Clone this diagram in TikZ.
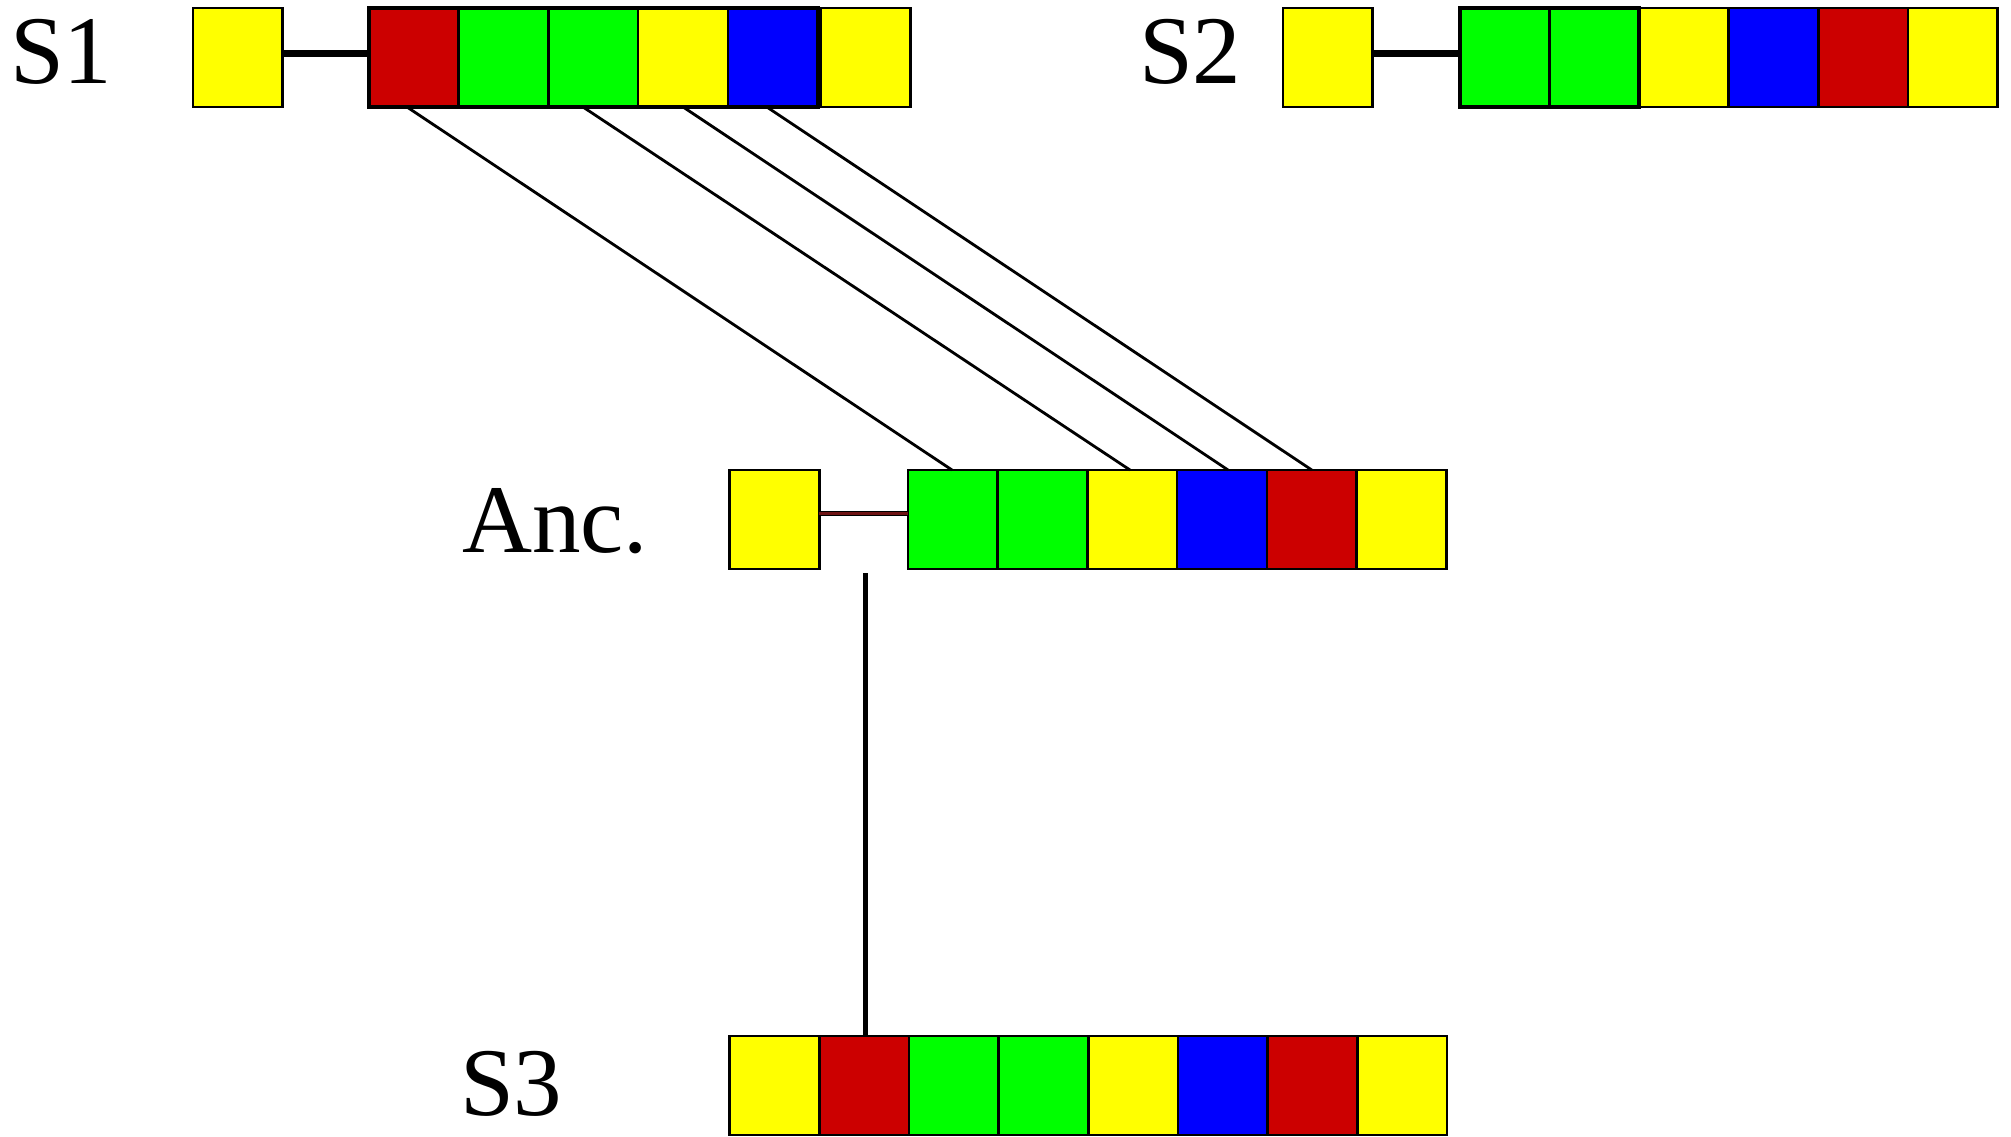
\documentclass[tikz,border=0pt]{standalone}
\usepackage{fontspec}
\setmainfont{Liberation Serif}
\definecolor{cy}{RGB}{255,255,0}
\definecolor{cr}{RGB}{204,0,0}
\definecolor{cg}{RGB}{0,255,0}
\definecolor{cb}{RGB}{0,0,255}
\definecolor{ancline}{RGB}{110,20,20}
\tikzset{
  cell/.style={draw=black, line width=2.6pt, minimum width=89.7pt, minimum height=99pt,
    inner sep=0pt, outer sep=0pt, anchor=north west},
  lbl/.style={inner sep=0pt, outer sep=0pt, anchor=base west,
    font=\fontsize{97}{100}\selectfont},
  link/.style={draw=black, line width=2.8pt},
  stem/.style={draw=black, line width=7pt},
  grp/.style={draw=black, line width=4pt}
}
\begin{document}
\begin{tikzpicture}[x=1pt,y=-1pt]
\useasboundingbox (0,0) rectangle (2011,1136);
% ---- S1 ----
\node[lbl] (t1) at (10,83) {S1};
\node[cell, fill=cy] (s1y) at (193,8) {};
\node[cell, fill=cr] (s1a) at (369,8) {};
\node[cell, fill=cg] (s1b) at (458.7,8) {};
\node[cell, fill=cg] (s1c) at (548.4,8) {};
\node[cell, fill=cy] (s1d) at (638.1,8) {};
\node[cell, fill=cb] (s1e) at (727.8,8) {};
\node[cell, fill=cy] (s1f) at (820.5,8) {};
\draw[grp] (s1a.north west) rectangle (s1e.south east);
\draw[stem] ([yshift=4.5pt]s1y.east) -- ([yshift=4.5pt]s1a.west);
% ---- S2 ----
\node[lbl] (t2) at (1139,83) {S2};
\node[cell, fill=cy] (s2y) at (1283,8) {};
\node[cell, fill=cg] (s2a) at (1459.5,8) {};
\node[cell, fill=cg] (s2b) at (1549.2,8) {};
\node[cell, fill=cy] (s2c) at (1638.9,8) {};
\node[cell, fill=cb] (s2d) at (1728.6,8) {};
\node[cell, fill=cr] (s2e) at (1818.3,8) {};
\node[cell, fill=cy] (s2f) at (1908,8) {};
\draw[grp] (s2a.north west) rectangle (s2b.south east);
\draw[stem] ([yshift=4.5pt]s2y.east) -- ([yshift=4.5pt]s2a.west);
% ---- Anc ----
\node[lbl] (t3) at (462,552) {Anc.};
\node[cell, fill=cy] (ay) at (729.5,470) {};
\node[cell, fill=cg] (aa) at (908,470) {};
\node[cell, fill=cg] (ab) at (997.7,470) {};
\node[cell, fill=cy] (ac) at (1087.4,470) {};
\node[cell, fill=cb] (ad) at (1177.1,470) {};
\node[cell, fill=cr] (ae) at (1266.8,470) {};
\node[cell, fill=cy] (af) at (1356.5,470) {};
\draw[draw=black, line width=1.2pt, double=ancline, double distance=3pt]
  ([yshift=6pt]ay.east) -- ([yshift=6pt]aa.west);
% ---- S3 ----
\node[lbl] (t4) at (460,1115) {S3};
\node[cell, fill=cy] (sa) at (729.5,1036) {};
\node[cell, fill=cr] (sb) at (819.2,1036) {};
\node[cell, fill=cg] (sc) at (908.9,1036) {};
\node[cell, fill=cg] (sd) at (998.6,1036) {};
\node[cell, fill=cy] (se) at (1088.3,1036) {};
\node[cell, fill=cb] (sf) at (1178,1036) {};
\node[cell, fill=cr] (sg) at (1267.7,1036) {};
\node[cell, fill=cy] (sh) at (1357.4,1036) {};
% ---- connectors ----
\draw[link] ([xshift=38pt]s1a.south west) -- ([xshift=44pt]aa.north west);
\draw[link] ([xshift=34.6pt]s1c.south west) -- ([xshift=42.6pt]ac.north west);
\draw[link] ([xshift=45pt]s1d.south west) -- ([xshift=51pt]ad.north west);
\draw[link] ([xshift=39pt]s1e.south west) -- ([xshift=45pt]ae.north west);
\coordinate (vtop) at (865,573);
\draw[draw=black, line width=5pt] (vtop) -- (vtop |- sb.north);
\end{tikzpicture}
\end{document}
